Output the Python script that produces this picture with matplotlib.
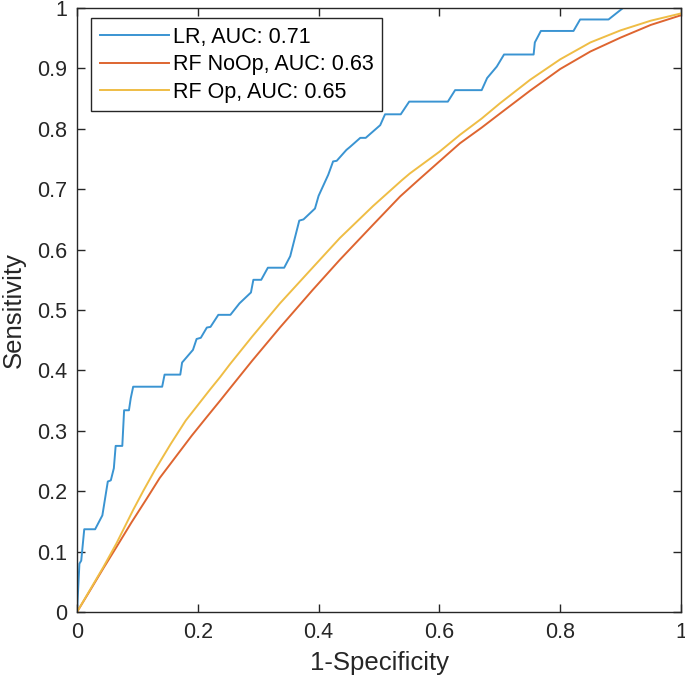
import numpy as np
import matplotlib
matplotlib.use("Agg")
import matplotlib.pyplot as plt

plt.rcParams['font.family'] = ['Liberation Sans', 'DejaVu Sans']

# ROC points
lr_fpr = [0, 0.004, 0.007, 0.012, 0.030, 0.042, 0.051, 0.056, 0.061, 0.064, 0.075, 0.078,
          0.086, 0.089, 0.093, 0.141, 0.145, 0.171, 0.174, 0.192, 0.198, 0.205, 0.215, 0.221,
          0.234, 0.254, 0.269, 0.288, 0.292, 0.305, 0.316, 0.343, 0.353, 0.368, 0.375, 0.394,
          0.400, 0.416, 0.424, 0.430, 0.446, 0.452, 0.469, 0.478, 0.502, 0.510, 0.536, 0.550,
          0.614, 0.626, 0.670, 0.679, 0.695, 0.707, 0.756, 0.758, 0.768, 0.822, 0.833, 0.880,
          0.904, 1.0]
lr_tpr = [0, 0.080, 0.085, 0.137, 0.137, 0.160, 0.216, 0.218, 0.238, 0.275, 0.275, 0.334,
          0.334, 0.354, 0.373, 0.373, 0.393, 0.393, 0.413, 0.434, 0.452, 0.454, 0.471, 0.472,
          0.492, 0.492, 0.511, 0.529, 0.550, 0.550, 0.570, 0.570, 0.589, 0.648, 0.650, 0.668,
          0.689, 0.724, 0.746, 0.747, 0.765, 0.770, 0.785, 0.785, 0.806, 0.824, 0.824, 0.845,
          0.845, 0.864, 0.864, 0.884, 0.903, 0.923, 0.923, 0.943, 0.962, 0.962, 0.981, 0.981,
          1.0, 1.0]

rf_noop_fpr = [0, 0.020, 0.044, 0.065, 0.090, 0.115, 0.137, 0.165, 0.190, 0.215, 0.237, 0.253,
               0.290, 0.336, 0.390, 0.435, 0.490, 0.535, 0.565, 0.600, 0.634, 0.670, 0.700,
               0.750, 0.800, 0.850, 0.900, 0.950, 1.0]
rf_noop_tpr = [0, 0.033, 0.073, 0.107, 0.148, 0.187, 0.222, 0.259, 0.292, 0.323, 0.350, 0.370,
               0.416, 0.471, 0.533, 0.583, 0.641, 0.688, 0.715, 0.746, 0.776, 0.802, 0.825,
               0.863, 0.899, 0.928, 0.951, 0.972, 0.988]

rf_op_fpr = [0, 0.020, 0.044, 0.065, 0.093, 0.110, 0.129, 0.155, 0.180, 0.220, 0.237, 0.253,
             0.290, 0.336, 0.390, 0.435, 0.490, 0.538, 0.551, 0.600, 0.634, 0.670, 0.700,
             0.750, 0.800, 0.850, 0.900, 0.950, 1.0]
rf_op_tpr = [0, 0.034, 0.075, 0.113, 0.169, 0.201, 0.235, 0.278, 0.317, 0.368, 0.389, 0.410,
             0.456, 0.511, 0.570, 0.619, 0.672, 0.715, 0.726, 0.762, 0.790, 0.817, 0.842,
             0.881, 0.915, 0.943, 0.963, 0.979, 0.991]

labels = ["LR, AUC: 0.71", "RF NoOp, AUC: 0.63", "RF Op, AUC: 0.65"]
colors = ["#3A94D2", "#DE6530", "#EFBD45"]

fig = plt.figure(figsize=(6.85, 6.87), dpi=100)
ax = fig.add_axes([77 / 685, 75 / 687, 604 / 685, 604 / 687])

ax.plot(lr_fpr, lr_tpr, color=colors[0], lw=1.4, label=labels[0])
ax.plot(rf_noop_fpr, rf_noop_tpr, color=colors[1], lw=1.4, label=labels[1])
ax.plot(rf_op_fpr, rf_op_tpr, color=colors[2], lw=1.4, label=labels[2])

ax.set_xlim(0, 1)
ax.set_ylim(0, 1)
xt = [0, 0.2, 0.4, 0.6, 0.8, 1]
yt = [0, 0.1, 0.2, 0.3, 0.4, 0.5, 0.6, 0.7, 0.8, 0.9, 1]
ax.set_xticks(xt)
ax.set_xticklabels(["0", "0.2", "0.4", "0.6", "0.8", "1"])
ax.set_yticks(yt)
ax.set_yticklabels(["0", "0.1", "0.2", "0.3", "0.4", "0.5", "0.6", "0.7", "0.8", "0.9", "1"])
ax.tick_params(direction="in", top=True, right=True, length=6, width=1,
               color="#262626", labelsize=15.5, labelcolor="#262626", pad=7)
for s in ax.spines.values():
    s.set_color("#262626")
    s.set_linewidth(1)

ax.set_xlabel("1-Specificity", fontsize=18.5, color="#262626", labelpad=6)
ax.set_ylabel("Sensitivity", fontsize=18.5, color="#262626", labelpad=8)

leg = ax.legend(loc="upper left", bbox_to_anchor=(0.023, 0.983), borderaxespad=0,
                fontsize=15.5, handlelength=3.25, fancybox=False, framealpha=1,
                edgecolor="#262626", borderpad=0.4, labelspacing=0.3, handletextpad=0.15)
leg.get_frame().set_linewidth(1)

fig.savefig("out.png", dpi=100)
